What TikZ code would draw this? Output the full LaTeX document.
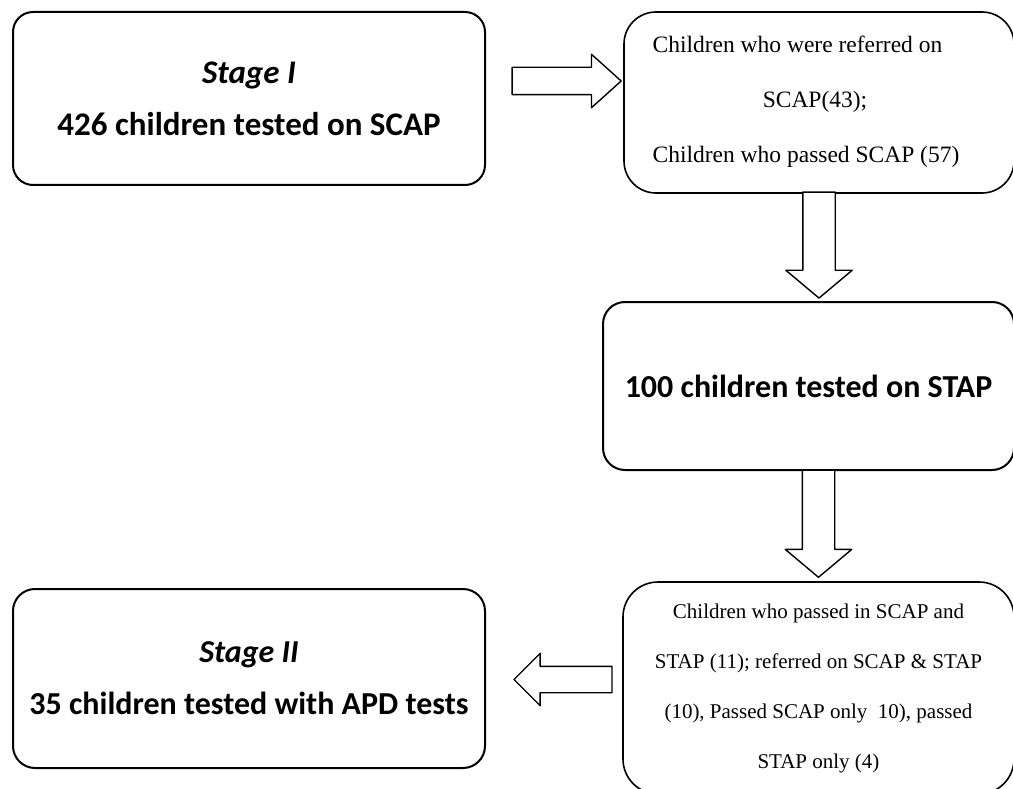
\documentclass[tikz,border=0pt]{standalone}
\usepackage{fontspec}
\setmainfont{Liberation Serif}
\newfontfamily\calibri{Carlito}
\usetikzlibrary{shapes.arrows,calc}

\tikzset{
  stagebox/.style={draw, line width=2pt, rounded corners=20pt, align=center,
    font=\calibri\bfseries\fontsize{32}{52}\selectfont},
  notebox/.style={draw, line width=1.6pt, rounded corners=32pt},
  fatarrow/.style={draw, line width=1.4pt, single arrow, inner xsep=0pt, anchor=tip,
    single arrow head extend=#1, fill=white},
}

\begin{document}
\begin{tikzpicture}[x=1pt, y=-1pt, line join=round]
  \useasboundingbox (0,0) rectangle (1013,789);
  \clip (0,0) rectangle (1013,789);
  \node[stagebox, font=\calibri\bfseries\fontsize{33}{52}\selectfont,
    minimum width=472pt, minimum height=173pt] (stage1) at (249,98.5)
    {{\itshape Stage I}\\426 children tested on SCAP};
  \node[notebox, minimum width=390pt, minimum height=181pt] (refer) at (819,102.5)
    {\fontsize{23.5}{55}\selectfont\hspace*{-26pt}\raisebox{0pt}[0pt][0pt]{%
     \begin{tabular}{@{}l@{}}
       Children who were referred on\\
       \multicolumn{1}{@{\hspace{18pt}}c@{}}{SCAP(43);}\\
       Children who passed SCAP (57)
     \end{tabular}}};
  \node[stagebox, rounded corners=22pt, minimum width=411pt, minimum height=168pt] (stap) at (808.5,386)
    {100 children tested on STAP};
  \node[notebox, rounded corners=35pt, align=center, minimum width=391pt, minimum height=212pt,
    font=\fontsize{21}{50}\selectfont] (split) at (818.5,688)
    {Children who passed in SCAP and\\STAP (11); referred on SCAP \& STAP\\(10), Passed SCAP only\ \ 10), passed\\STAP only (4)};
  \node[stagebox, rounded corners=22pt, minimum width=472pt, minimum height=179pt] (stage2) at (249,678.5)
    {{\itshape Stage II}\\35 children tested with APD tests};
  % block arrows
  \node[fatarrow=13pt, inner ysep=13pt, minimum height=109pt, single arrow tip angle=84]
    (a1) at ($(refer.west)+(-1,-21.5)$) {};
  \node[fatarrow=17pt, inner ysep=15.5pt, minimum height=106pt, single arrow tip angle=100, rotate=-90]
    (a2) at ($(stap.north -| refer.south)+(0,-2)$) {};
  \node[fatarrow=17pt, inner ysep=15.5pt, minimum height=107pt, single arrow tip angle=100, rotate=-90]
    (a3) at ($(split.north)+(0,-3)$) {};
  \node[fatarrow=13pt, inner ysep=12.5pt, minimum height=98pt, single arrow tip angle=90, rotate=180]
    (a4) at ($(stage2.east)+(27,1)$) {};
\end{tikzpicture}
\end{document}
